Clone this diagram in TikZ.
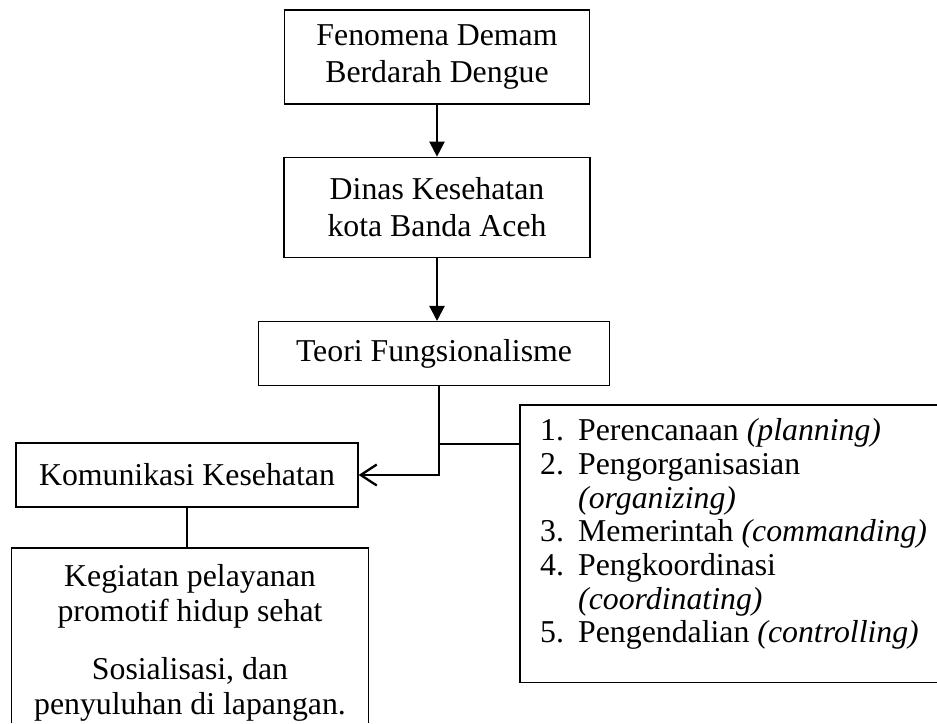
\documentclass[tikz,border=0pt]{standalone}
\usepackage{fontspec}
\setmainfont{Liberation Serif}
\usetikzlibrary{arrows.meta,positioning}

\begin{document}
\begin{tikzpicture}[
    x=1pt,y=1pt,
    font=\fontsize{31.8}{37}\selectfont,
    stage/.style={draw,line width=1.3pt,align=center,inner sep=0pt}
  ]
  \useasboundingbox (0,0) rectangle (937,-723);

  \node[stage,minimum width=305pt,minimum height=94pt] (fenomena) at (437,-57) {Fenomena Demam\\Berdarah Dengue};
  \node[stage,minimum width=306pt,minimum height=100pt,below=52pt of fenomena] (dinas) {Dinas Kesehatan\\kota Banda Aceh};
  \node[stage,minimum width=351pt,minimum height=64pt,below=63pt of dinas,xshift=-3pt] (teori) {Teori Fungsionalisme};
  \node[stage,minimum width=342pt,minimum height=64pt] (komunikasi) at (187,-475) {Komunikasi Kesehatan};

  % fungsi manajemen (kotak terbuka di kanan)
  \node[inner xsep=20pt,inner ysep=0pt,anchor=north west] (fungsi) at (520,-405) {\parbox[c][277pt][t]{377pt}{\fontsize{31.8}{33.7}\selectfont\vspace{12pt}%
    \begin{tabular}{@{}p{38pt}@{}l@{}}
      1. & Perencanaan \textit{(planning)}\\
      2. & Pengorganisasian\\
         & \textit{(organizing)}\\
      3. & Memerintah \textit{(commanding)}\\
      4. & Pengkoordinasi\\
         & \textit{(coordinating)}\\
      5. & Pengendalian \textit{(controlling)}
    \end{tabular}}};
  % kegiatan (kotak terbuka di bawah)
  \node[inner sep=0pt,anchor=north] (kegiatan) at (190,-548) {\parbox[c][175pt][t]{356pt}{\centering\fontsize{31.8}{35}\selectfont\vspace{16pt}%
    Kegiatan pelayanan\\promotif hidup sehat\\[23pt]Sosialisasi, dan\\penyuluhan di lapangan.}};

  \draw[line width=1.3pt] (fungsi.north east) -- (fungsi.north west) -- (fungsi.south west) -- (fungsi.south east);
  \draw[line width=1.3pt] (kegiatan.south west) -- (kegiatan.north west) -- (kegiatan.north east) -- (kegiatan.south east);

  \coordinate (cabang) at (439,-444);
  \draw[line width=2.3pt,-{Triangle[width=15pt,length=15pt]}] (fenomena.south) -- (fenomena.south |- dinas.north);
  \draw[line width=2.3pt,-{Triangle[width=15pt,length=15pt]}] (dinas.south) -- (dinas.south |- teori.north);
  \draw[line width=2.3pt,-{Straight Barb[width=21pt,length=16pt]}] (teori.south -| cabang) |- (komunikasi.east);
  \draw[line width=2.3pt] (cabang) -- (cabang -| fungsi.west);
  \draw[line width=2.3pt] (komunikasi.south) -- (komunikasi.south |- kegiatan.north);
\end{tikzpicture}
\end{document}
